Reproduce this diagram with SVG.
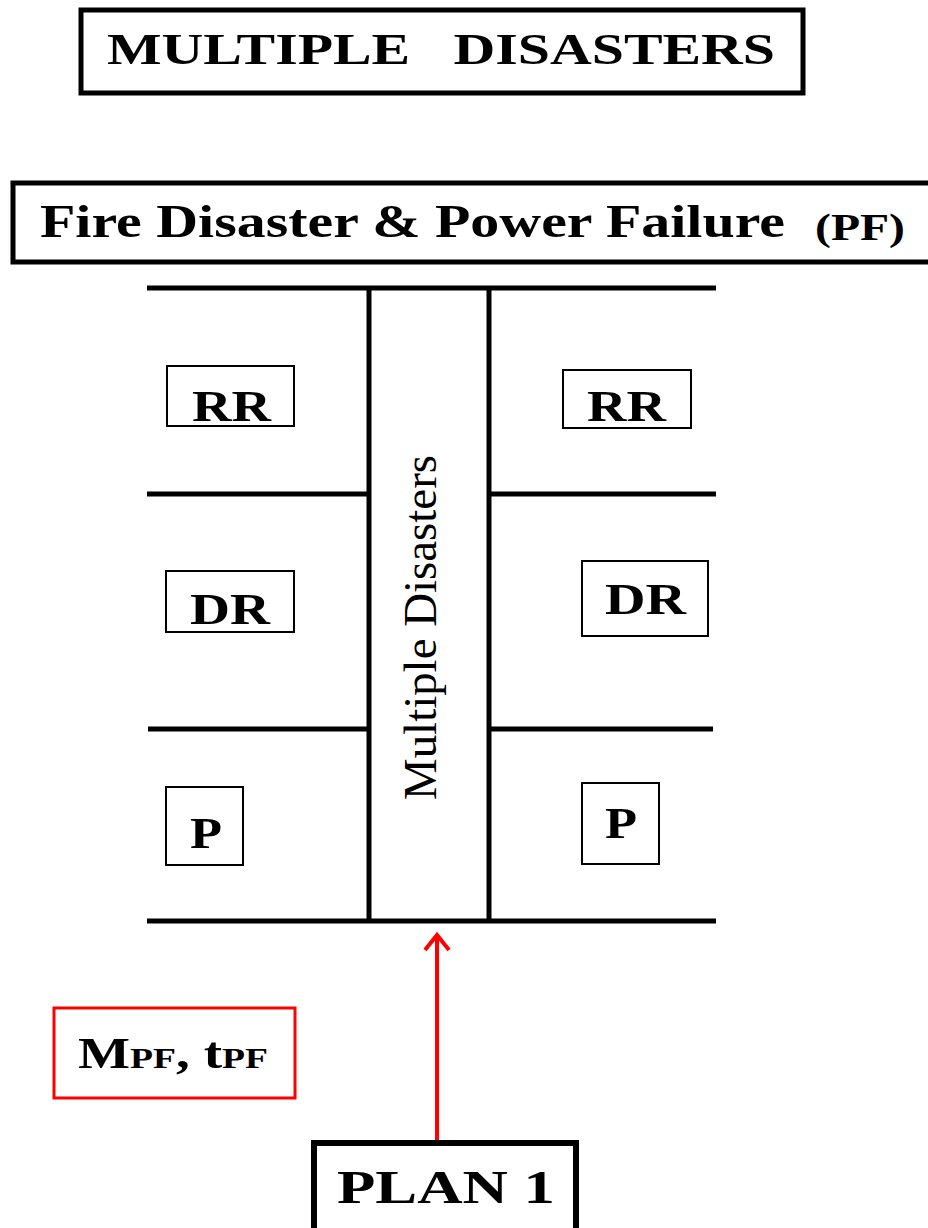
<svg xmlns="http://www.w3.org/2000/svg" width="928" height="1228" viewBox="0 0 928 1228">
<style>
.b{font-family:"Liberation Serif","Times New Roman",serif;font-weight:bold;fill:#000}
.r{font-family:"Liberation Serif","Times New Roman",serif;fill:#000}
.thick{fill:#fff;stroke:#000;stroke-width:5}
.thin{fill:#fff;stroke:#000;stroke-width:2}
.wall{stroke:#000;stroke-width:5;fill:none}
</style>
<rect width="928" height="1228" fill="#fff"/>
<g id="title">
<rect class="thick" x="81" y="10" width="722" height="83"/>
<text class="b" x="107" y="64" font-size="44" textLength="668" lengthAdjust="spacingAndGlyphs" xml:space="preserve">MULTIPLE   DISASTERS</text>
</g>
<g id="header">
<rect class="thick" x="13" y="183" width="925" height="79"/>
<text class="b" x="40" y="237" font-size="46" textLength="745" lengthAdjust="spacingAndGlyphs">Fire Disaster &amp; Power Failure</text>
<text class="b" x="815" y="240" font-size="38" textLength="90" lengthAdjust="spacingAndGlyphs">(PF)</text>
</g>
<g id="plan">
<line class="wall" x1="147" y1="288" x2="716" y2="288"/>
<line class="wall" x1="147" y1="921" x2="716" y2="921"/>
<line class="wall" x1="147" y1="494" x2="369" y2="494"/>
<line class="wall" x1="489" y1="494" x2="716" y2="494"/>
<line class="wall" x1="148" y1="729" x2="369" y2="729"/>
<line class="wall" x1="489" y1="729" x2="713" y2="729"/>
<line class="wall" x1="369" y1="288" x2="369" y2="921"/>
<line class="wall" x1="489" y1="288" x2="489" y2="921"/>
</g>
<g id="corridor">
<text class="r" transform="translate(436,800) rotate(-90)" font-size="46" textLength="345" lengthAdjust="spacingAndGlyphs">Multiple Disasters</text>
</g>
<g id="rr-left"><rect class="thin" x="167" y="366" width="127" height="60"/><text class="b" x="192" y="421" font-size="44" textLength="79" lengthAdjust="spacingAndGlyphs">RR</text></g>
<g id="rr-right"><rect class="thin" x="563" y="370" width="128" height="58"/><text class="b" x="587" y="421" font-size="44" textLength="79" lengthAdjust="spacingAndGlyphs">RR</text></g>
<g id="dr-left"><rect class="thin" x="166" y="571" width="128" height="61"/><text class="b" x="190" y="624" font-size="44" textLength="80" lengthAdjust="spacingAndGlyphs">DR</text></g>
<g id="dr-right"><rect class="thin" x="582" y="561" width="126" height="75"/><text class="b" x="605" y="614" font-size="44" textLength="81" lengthAdjust="spacingAndGlyphs">DR</text></g>
<g id="p-left"><rect class="thin" x="166" y="787" width="77" height="78"/><text class="b" x="190" y="848" font-size="44" textLength="32" lengthAdjust="spacingAndGlyphs">P</text></g>
<g id="p-right"><rect class="thin" x="582" y="783" width="77" height="81"/><text class="b" x="605" y="838" font-size="44" textLength="32" lengthAdjust="spacingAndGlyphs">P</text></g>
<g id="params">
<rect x="54" y="1008" width="241" height="90" fill="#fff" stroke="#f00" stroke-width="3"/>
<text class="b" x="78" y="1068" font-size="44" textLength="190" lengthAdjust="spacingAndGlyphs">M<tspan font-size="30">PF</tspan>, t<tspan font-size="30">PF</tspan></text>
</g>
<g id="plan1">
<rect x="314" y="1143" width="262" height="100" fill="#fff" stroke="#000" stroke-width="6"/>
<text class="b" x="337" y="1203" font-size="47" textLength="218" lengthAdjust="spacingAndGlyphs">PLAN 1</text>
</g>
<g id="connectors">
<line x1="437" y1="1140" x2="437" y2="936" stroke="#f00" stroke-width="4"/>
<polyline points="425,950 437,935 449,950" fill="none" stroke="#f00" stroke-width="4" stroke-linejoin="miter"/>
</g>
</svg>
